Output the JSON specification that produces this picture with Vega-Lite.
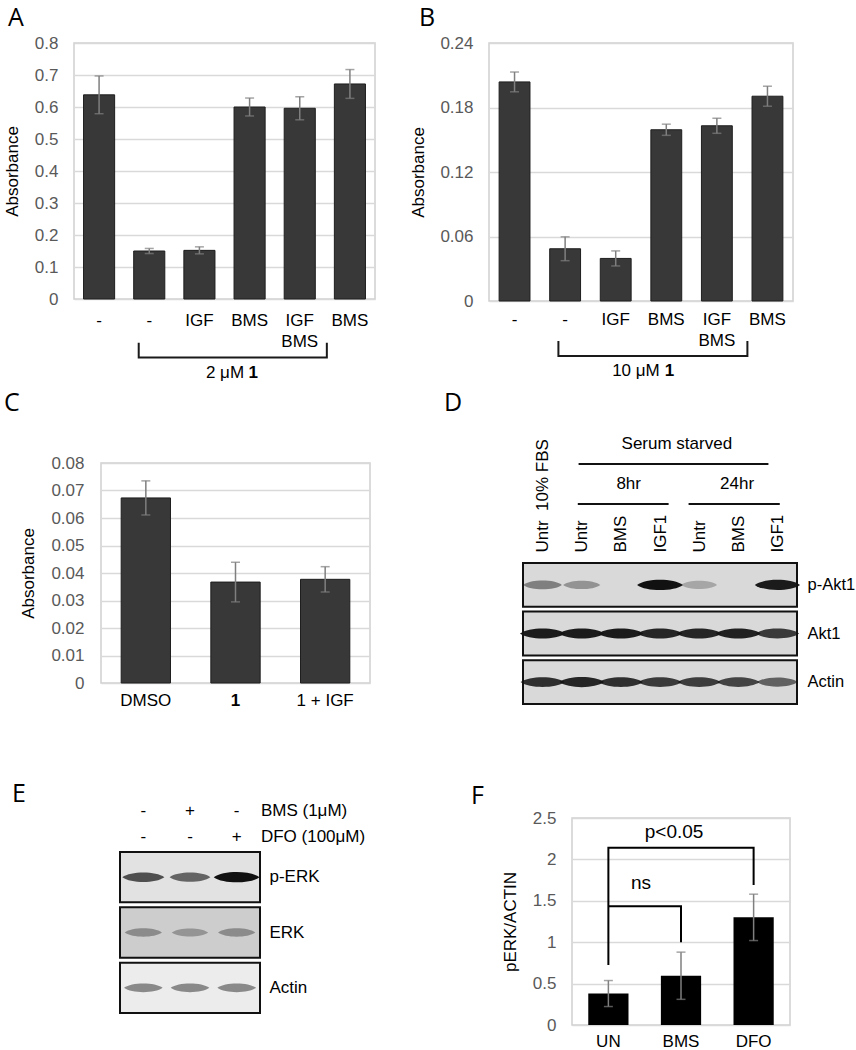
{
  "$schema": "https://vega.github.io/schema/vega-lite/v6.json",
  "background": "white",
  "padding": {"left": 0, "top": 4, "right": 0, "bottom": 0},
  "config": {
    "font": "Liberation Sans",
    "view": {"stroke": null},
    "axis": {"labelFont": "Liberation Sans", "titleFont": "Liberation Sans", "labelFontSize": 17, "titleFontSize": 17, "titleFontWeight": "normal", "ticks": false, "domain": false, "labelColor": "#000000", "titleColor": "#000000", "gridColor": "#d9d9d9", "gridWidth": 1.5, "grid": false, "labelOverlap": false},
    "title": {"font": "Open Sans", "fontSize": 25, "fontWeight": "normal", "anchor": "start", "frame": "group", "color": "#000000"},
    "text": {"font": "Liberation Sans", "fontSize": 17, "color": "#000000"}
  },
  "columns": 2,
  "spacing": 0,
  "concat": [
    {
      "columns": 1, "spacing": 0,
      "concat": [
        {
          "columns": 2, "spacing": 0,
          "concat": [
            {"width": 1.5, "height": 1, "data": {"values": []}, "mark": "point", "encoding": {}},
            {
              "width": 301, "height": 256,
              "view": {"stroke": "#d0d0d0", "strokeWidth": 1.5},
              "title": {"text": "A", "dx": -66, "offset": 3.5},
              "layer": [
                {
                  "data": {"values": [
                    {"condition": "control", "mean": 0.638, "sd": 0.059},
                    {"condition": "1", "mean": 0.150, "sd": 0.008},
                    {"condition": "1 + IGF", "mean": 0.152, "sd": 0.011},
                    {"condition": "1 + BMS", "mean": 0.600, "sd": 0.028},
                    {"condition": "1 + IGF + BMS", "mean": 0.596, "sd": 0.036},
                    {"condition": "BMS", "mean": 0.672, "sd": 0.045}
                  ]},
                  "layer": [
                    {
                      "mark": {"type": "bar", "fill": "#383838", "stroke": "#1e1e1e", "strokeWidth": 1},
                      "encoding": {
                        "x": {"field": "condition", "type": "nominal", "sort": null, "title": null,
                          "scale": {"paddingInner": 0.38, "paddingOuter": 0.19},
                          "axis": {"labelAngle": 0, "labelPadding": 13, "labelLineHeight": 21,
                            "labelExpr": "datum.value == 'control' || datum.value == '1' ? '-' : datum.value == '1 + IGF' ? 'IGF' : datum.value == '1 + BMS' ? 'BMS' : datum.value == '1 + IGF + BMS' ? ['IGF', 'BMS'] : datum.value"}},
                        "y": {"field": "mean", "type": "quantitative", "title": "Absorbance",
                          "scale": {"domain": [0, 0.8]},
                          "axis": {"values": [0, 0.1, 0.2, 0.3, 0.4, 0.5, 0.6, 0.7, 0.8], "tickCount": 20, "format": "~g", "grid": true, "labelColor": "#595959", "labelPadding": 16, "titlePadding": 13}}
                      }
                    },
                    {
                      "mark": {"type": "errorbar", "color": "#7f7f7f", "thickness": 1.5, "ticks": {"size": 9, "thickness": 1.5}},
                      "encoding": {
                        "x": {"field": "condition", "type": "nominal", "sort": null, "title": null},
                        "y": {"field": "mean", "type": "quantitative", "title": "Absorbance", "scale": {"domain": [0, 0.8]}},
                        "yError": {"field": "sd"}
                      }
                    }
                  ]
                },
                {
                  "data": {"values": [
                    {"pos": 1.29, "abs": -0.137, "step": 1},
                    {"pos": 1.29, "abs": -0.183, "step": 2},
                    {"pos": 5.04, "abs": -0.183, "step": 3},
                    {"pos": 5.04, "abs": -0.137, "step": 4}
                  ]},
                  "mark": {"type": "line", "stroke": "#1a1a1a", "strokeWidth": 2},
                  "encoding": {
                    "x": {"field": "pos", "type": "quantitative", "scale": {"domain": [0, 6], "nice": false, "zero": false}, "axis": null},
                    "y": {"field": "abs", "type": "quantitative", "title": "Absorbance", "scale": {"domain": [0, 0.8]}},
                    "order": {"field": "step"}
                  }
                },
                {
                  "data": {"values": [{"pos": 3.39, "abs": -0.2325, "label": "2 \u03bcM"}]},
                  "mark": {"type": "text", "align": "right", "baseline": "middle"},
                  "encoding": {
                    "x": {"field": "pos", "type": "quantitative", "scale": {"domain": [0, 6], "nice": false, "zero": false}, "axis": null},
                    "y": {"field": "abs", "type": "quantitative", "title": "Absorbance", "scale": {"domain": [0, 0.8]}},
                    "text": {"field": "label"}
                  }
                },
                {
                  "data": {"values": [{"pos": 3.48, "abs": -0.2325, "label": "1"}]},
                  "mark": {"type": "text", "align": "left", "baseline": "middle", "fontWeight": "bold"},
                  "encoding": {
                    "x": {"field": "pos", "type": "quantitative", "scale": {"domain": [0, 6], "nice": false, "zero": false}, "axis": null},
                    "y": {"field": "abs", "type": "quantitative", "title": "Absorbance", "scale": {"domain": [0, 0.8]}},
                    "text": {"field": "label"}
                  }
                }
              ],
              "resolve": {"scale": {"x": "independent"}}
            }
          ]
        },
        {"width": 1, "height": 6.3, "data": {"values": []}, "mark": "point", "encoding": {}},
        {
          "columns": 2, "spacing": 0,
          "concat": [
            {"width": 3, "height": 1, "data": {"values": []}, "mark": "point", "encoding": {}},
            {
              "width": 269, "height": 220,
              "view": {"stroke": "#d0d0d0", "strokeWidth": 1.5},
              "title": {"text": "C", "dx": -97, "offset": 38},
              "data": {"values": [
                {"condition": "DMSO", "mean": 0.0673, "sd": 0.0062},
                {"condition": "1", "mean": 0.0367, "sd": 0.0072},
                {"condition": "1 + IGF", "mean": 0.0377, "sd": 0.0046}
              ]},
              "layer": [
                {
                  "mark": {"type": "bar", "fill": "#383838", "stroke": "#1e1e1e", "strokeWidth": 1},
                  "encoding": {
                    "x": {"field": "condition", "type": "nominal", "sort": null, "title": null,
                      "scale": {"paddingInner": 0.45, "paddingOuter": 0.225},
                      "axis": {"labelAngle": 0, "labelPadding": 9,
                        "labelFontWeight": {"condition": {"test": "datum.value == '1'", "value": "bold"}, "value": "normal"}}},
                    "y": {"field": "mean", "type": "quantitative", "title": "Absorbance",
                      "scale": {"domain": [0, 0.08]},
                      "axis": {"values": [0, 0.01, 0.02, 0.03, 0.04, 0.05, 0.06, 0.07, 0.08], "tickCount": 20, "format": "~g", "grid": true, "labelColor": "#595959", "labelPadding": 17, "titlePadding": 13}}
                  }
                },
                {
                  "mark": {"type": "errorbar", "color": "#7f7f7f", "thickness": 1.5, "ticks": {"size": 9, "thickness": 1.5}},
                  "encoding": {
                    "x": {"field": "condition", "type": "nominal", "sort": null, "title": null},
                    "y": {"field": "mean", "type": "quantitative", "title": "Absorbance", "scale": {"domain": [0, 0.08]}},
                    "yError": {"field": "sd"}
                  }
                }
              ]
            }
          ]
        },
        {"width": 1, "height": 72.3, "data": {"values": []}, "mark": "point", "encoding": {}},
        {
          "columns": 2, "spacing": 0,
          "concat": [
            {"width": 11.3, "height": 1, "data": {"values": []}, "mark": "point", "encoding": {}},
            {
              "width": 140, "height": 161,
              "title": {"text": "E", "dx": -108, "offset": -5.5},
              "layer": [
                {
                  "layer": [
                    {
                      "data": {"values": [{"protein": "p-ERK"}, {"protein": "ERK"}, {"protein": "Actin"}]},
                      "mark": {"type": "rect", "stroke": "#111111", "strokeWidth": 2},
                      "encoding": {
                        "y": {"field": "protein", "type": "nominal", "sort": null, "title": null,
                          "scale": {"domain": ["p-ERK", "ERK", "Actin"], "paddingInner": 0.09, "paddingOuter": 0},
                          "axis": {"orient": "right", "labelAlign": "left", "labelPadding": 9}},
                        "x": {"datum": 0.5, "type": "quantitative", "scale": {"domain": [0.5, 3.5], "nice": false, "zero": false}, "axis": null},
                        "x2": {"datum": 3.5},
                        "fill": {"field": "protein", "type": "nominal", "scale": {"domain": ["p-ERK", "ERK", "Actin"], "range": ["#e2e2e2", "#cdcdcd", "#ececec"]}, "legend": null}
                      }
                    },
                    {
                      "data": {"values": [
                        {"protein": "p-ERK", "lane": 1, "signal": 0.7},
                        {"protein": "p-ERK", "lane": 2, "signal": 0.6},
                        {"protein": "p-ERK", "lane": 3, "signal": 1.0},
                        {"protein": "ERK", "lane": 1, "signal": 0.35},
                        {"protein": "ERK", "lane": 2, "signal": 0.3},
                        {"protein": "ERK", "lane": 3, "signal": 0.35},
                        {"protein": "Actin", "lane": 1, "signal": 0.45},
                        {"protein": "Actin", "lane": 2, "signal": 0.45},
                        {"protein": "Actin", "lane": 3, "signal": 0.45}
                      ]},
                      "mark": {"type": "point", "filled": true, "shape": "M-1,0C-0.6,-0.3,0.6,-0.3,1,0C0.6,0.3,-0.6,0.3,-1,0Z", "color": "#111111", "strokeWidth": 0},
                      "encoding": {
                        "x": {"field": "lane", "type": "quantitative", "axis": null},
                        "y": {"field": "protein", "type": "nominal", "sort": null, "title": null},
                        "opacity": {"field": "signal", "type": "quantitative", "scale": {"domain": [0, 1], "range": [0, 1]}, "legend": null},
                        "size": {"field": "signal", "type": "quantitative", "scale": {"domain": [0, 1], "range": [1000, 2100]}, "legend": null}
                      }
                    }
                  ]
                },
                {
                  "layer": [
                    {
                      "data": {"values": [
                        {"treatment": "BMS", "row": 2, "lane": 1, "sign": "-"},
                        {"treatment": "BMS", "row": 2, "lane": 2, "sign": "+"},
                        {"treatment": "BMS", "row": 2, "lane": 3, "sign": "-"},
                        {"treatment": "DFO", "row": 1, "lane": 1, "sign": "-"},
                        {"treatment": "DFO", "row": 1, "lane": 2, "sign": "-"},
                        {"treatment": "DFO", "row": 1, "lane": 3, "sign": "+"}
                      ]},
                      "mark": {"type": "text", "align": "center", "baseline": "middle"},
                      "encoding": {
                        "x": {"field": "lane", "type": "quantitative", "axis": null},
                        "y": {"field": "row", "type": "quantitative", "scale": {"domain": [-5.6, 0.45], "nice": false, "zero": false}, "axis": null},
                        "text": {"field": "sign"}
                      }
                    },
                    {
                      "data": {"values": [
                        {"name": "BMS (1\u03bcM)", "row": 2},
                        {"name": "DFO (100\u03bcM)", "row": 1}
                      ]},
                      "mark": {"type": "text", "align": "left", "baseline": "middle"},
                      "encoding": {
                        "x": {"datum": 3.52, "type": "quantitative", "axis": null},
                        "y": {"field": "row", "type": "quantitative", "scale": {"domain": [-5.6, 0.45], "nice": false, "zero": false}, "axis": null},
                        "text": {"field": "name"}
                      }
                    }
                  ]
                }
              ],
              "resolve": {"scale": {"y": "independent"}}
            }
          ]
        }
      ]
    },
    {
      "columns": 1, "spacing": 0,
      "concat": [
        {
          "columns": 2, "spacing": 0,
          "concat": [
            {"width": 32.3, "height": 1, "data": {"values": []}, "mark": "point", "encoding": {}},
            {
              "width": 304, "height": 258,
              "view": {"stroke": "#d0d0d0", "strokeWidth": 1.5},
              "title": {"text": "B", "dx": -70, "offset": 3.5},
              "layer": [
                {
                  "data": {"values": [
                    {"condition": "control", "mean": 0.2038, "sd": 0.0092},
                    {"condition": "1", "mean": 0.0486, "sd": 0.0111},
                    {"condition": "1 + IGF", "mean": 0.0396, "sd": 0.007},
                    {"condition": "1 + BMS", "mean": 0.1593, "sd": 0.0052},
                    {"condition": "1 + IGF + BMS", "mean": 0.163, "sd": 0.007},
                    {"condition": "BMS", "mean": 0.1905, "sd": 0.0093}
                  ]},
                  "layer": [
                    {
                      "mark": {"type": "bar", "fill": "#383838", "stroke": "#1e1e1e", "strokeWidth": 1},
                      "encoding": {
                        "x": {"field": "condition", "type": "nominal", "sort": null, "title": null,
                          "scale": {"paddingInner": 0.39, "paddingOuter": 0.2},
                          "axis": {"labelAngle": 0, "labelPadding": 10, "labelLineHeight": 21,
                            "labelExpr": "datum.value == 'control' || datum.value == '1' ? '-' : datum.value == '1 + IGF' ? 'IGF' : datum.value == '1 + BMS' ? 'BMS' : datum.value == '1 + IGF + BMS' ? ['IGF', 'BMS'] : datum.value"}},
                        "y": {"field": "mean", "type": "quantitative", "title": "Absorbance",
                          "scale": {"domain": [0, 0.24]},
                          "axis": {"values": [0, 0.06, 0.12, 0.18, 0.24], "tickCount": 20, "format": "~g", "grid": true, "labelColor": "#595959", "labelPadding": 16, "titlePadding": 12}}
                      }
                    },
                    {
                      "mark": {"type": "errorbar", "color": "#7f7f7f", "thickness": 1.5, "ticks": {"size": 9, "thickness": 1.5}},
                      "encoding": {
                        "x": {"field": "condition", "type": "nominal", "sort": null, "title": null},
                        "y": {"field": "mean", "type": "quantitative", "title": "Absorbance", "scale": {"domain": [0, 0.24]}},
                        "yError": {"field": "sd"}
                      }
                    }
                  ]
                },
                {
                  "data": {"values": [
                    {"pos": 1.37, "abs": -0.0372, "step": 1},
                    {"pos": 1.37, "abs": -0.0512, "step": 2},
                    {"pos": 5.10, "abs": -0.0512, "step": 3},
                    {"pos": 5.10, "abs": -0.0372, "step": 4}
                  ]},
                  "mark": {"type": "line", "stroke": "#1a1a1a", "strokeWidth": 2},
                  "encoding": {
                    "x": {"field": "pos", "type": "quantitative", "scale": {"domain": [0, 6], "nice": false, "zero": false}, "axis": null},
                    "y": {"field": "abs", "type": "quantitative", "title": "Absorbance", "scale": {"domain": [0, 0.24]}},
                    "order": {"field": "step"}
                  }
                },
                {
                  "data": {"values": [{"pos": 3.37, "abs": -0.065, "label": "10 \u03bcM"}]},
                  "mark": {"type": "text", "align": "right", "baseline": "middle"},
                  "encoding": {
                    "x": {"field": "pos", "type": "quantitative", "scale": {"domain": [0, 6], "nice": false, "zero": false}, "axis": null},
                    "y": {"field": "abs", "type": "quantitative", "title": "Absorbance", "scale": {"domain": [0, 0.24]}},
                    "text": {"field": "label"}
                  }
                },
                {
                  "data": {"values": [{"pos": 3.47, "abs": -0.065, "label": "1"}]},
                  "mark": {"type": "text", "align": "left", "baseline": "middle", "fontWeight": "bold"},
                  "encoding": {
                    "x": {"field": "pos", "type": "quantitative", "scale": {"domain": [0, 6], "nice": false, "zero": false}, "axis": null},
                    "y": {"field": "abs", "type": "quantitative", "title": "Absorbance", "scale": {"domain": [0, 0.24]}},
                    "text": {"field": "label"}
                  }
                }
              ],
              "resolve": {"scale": {"x": "independent"}}
            }
          ]
        },
        {"width": 1, "height": 10.1, "data": {"values": []}, "mark": "point", "encoding": {}},
        {
          "columns": 2, "spacing": 0,
          "concat": [
            {"width": 67.2, "height": 1, "data": {"values": []}, "mark": "point", "encoding": {}},
            {
              "width": 274, "height": 141,
              "title": {"text": "D", "dx": -79, "offset": 18.7},
              "layer": [
                {
                  "layer": [
                    {
                      "data": {"values": [{"protein": "p-Akt1"}, {"protein": "Akt1"}, {"protein": "Actin"}]},
                      "mark": {"type": "rect", "fill": "#d9d9d9", "stroke": "#111111", "strokeWidth": 2},
                      "encoding": {
                        "y": {"field": "protein", "type": "nominal", "sort": null, "title": null,
                          "scale": {"domain": ["p-Akt1", "Akt1", "Actin"], "paddingInner": 0.1, "paddingOuter": 0},
                          "axis": {"orient": "right", "labelAlign": "left", "labelPadding": 10, "labelFontSize": 16.5}},
                        "x": {"datum": 0.5, "type": "quantitative", "title": null,
                          "scale": {"domain": [0.5, 7.5], "nice": false, "zero": false},
                          "axis": {"orient": "top", "values": [1, 2, 3, 4, 5, 6, 7], "labelAngle": -90, "labelPadding": 11,
                            "labelExpr": "['Untr\u00a0\u00a010% FBS', 'Untr', 'BMS', 'IGF1', 'Untr', 'BMS', 'IGF1'][datum.value - 1]"}},
                        "x2": {"datum": 7.5}
                      }
                    },
                    {
                      "data": {"values": [
                        {"protein": "p-Akt1", "lane": 1, "signal": 0.45},
                        {"protein": "p-Akt1", "lane": 2, "signal": 0.35},
                        {"protein": "p-Akt1", "lane": 3, "signal": 0.0},
                        {"protein": "p-Akt1", "lane": 4, "signal": 1.0},
                        {"protein": "p-Akt1", "lane": 5, "signal": 0.25},
                        {"protein": "p-Akt1", "lane": 6, "signal": 0.0},
                        {"protein": "p-Akt1", "lane": 7, "signal": 0.95},
                        {"protein": "Akt1", "lane": 1, "signal": 0.95},
                        {"protein": "Akt1", "lane": 2, "signal": 0.95},
                        {"protein": "Akt1", "lane": 3, "signal": 0.95},
                        {"protein": "Akt1", "lane": 4, "signal": 0.9},
                        {"protein": "Akt1", "lane": 5, "signal": 0.9},
                        {"protein": "Akt1", "lane": 6, "signal": 0.92},
                        {"protein": "Akt1", "lane": 7, "signal": 0.8},
                        {"protein": "Actin", "lane": 1, "signal": 0.85},
                        {"protein": "Actin", "lane": 2, "signal": 0.9},
                        {"protein": "Actin", "lane": 3, "signal": 0.85},
                        {"protein": "Actin", "lane": 4, "signal": 0.8},
                        {"protein": "Actin", "lane": 5, "signal": 0.78},
                        {"protein": "Actin", "lane": 6, "signal": 0.75},
                        {"protein": "Actin", "lane": 7, "signal": 0.6}
                      ]},
                      "mark": {"type": "point", "filled": true, "shape": "M-1,0C-0.6,-0.3,0.6,-0.3,1,0C0.6,0.3,-0.6,0.3,-1,0Z", "color": "#111111", "strokeWidth": 0},
                      "encoding": {
                        "x": {"field": "lane", "type": "quantitative", "title": null},
                        "y": {"field": "protein", "type": "nominal", "sort": null, "title": null},
                        "opacity": {"field": "signal", "type": "quantitative", "scale": {"domain": [0, 1], "range": [0, 1]}, "legend": null},
                        "size": {"field": "signal", "type": "quantitative", "scale": {"domain": [0, 1], "range": [800, 1300]}, "legend": null}
                      }
                    }
                  ]
                },
                {
                  "data": {"values": [
                    {"label": "Serum starved", "center": 4.43, "start": 1.92, "end": 6.77, "level": 13, "lineLevel": 12},
                    {"label": "8hr", "center": 3.2, "start": 1.9, "end": 4.22, "level": 11, "lineLevel": 10},
                    {"label": "24hr", "center": 5.97, "start": 4.73, "end": 7.06, "level": 11, "lineLevel": 10}
                  ]},
                  "layer": [
                    {
                      "mark": {"type": "rule", "stroke": "#111111", "strokeWidth": 2},
                      "encoding": {
                        "x": {"field": "start", "type": "quantitative", "title": null},
                        "x2": {"field": "end"},
                        "y": {"field": "lineLevel", "type": "quantitative", "scale": {"domain": [0, 7.05], "nice": false, "zero": false}, "axis": null}
                      }
                    },
                    {
                      "mark": {"type": "text", "baseline": "middle", "align": "center"},
                      "encoding": {
                        "x": {"field": "center", "type": "quantitative", "title": null},
                        "y": {"field": "level", "type": "quantitative", "scale": {"domain": [0, 7.05], "nice": false, "zero": false}, "axis": null},
                        "text": {"field": "label"}
                      }
                    }
                  ]
                }
              ],
              "resolve": {"scale": {"y": "independent"}}
            }
          ]
        },
        {"width": 1, "height": 77.7, "data": {"values": []}, "mark": "point", "encoding": {}},
        {
          "columns": 2, "spacing": 0,
          "concat": [
            {"width": 93.5, "height": 1, "data": {"values": []}, "mark": "point", "encoding": {}},
            {
              "width": 218, "height": 207,
              "view": {"stroke": "#d0d0d0", "strokeWidth": 1.5},
              "title": {"text": "F", "dx": -101, "offset": 0},
              "layer": [
                {
                  "layer": [
                    {
                      "data": {"values": [
                        {"group": "UN", "mean": 0.38, "sd": 0.157},
                        {"group": "BMS", "mean": 0.595, "sd": 0.285},
                        {"group": "DFO", "mean": 1.30, "sd": 0.28}
                      ]},
                      "layer": [
                        {
                          "mark": {"type": "bar", "fill": "#000000"},
                          "encoding": {
                            "x": {"field": "group", "type": "nominal", "sort": null, "title": null,
                              "scale": {"paddingInner": 0.446, "paddingOuter": 0.224},
                              "axis": {"labelAngle": 0, "labelPadding": 8.5}},
                            "y": {"field": "mean", "type": "quantitative", "title": "pERK/ACTIN",
                              "scale": {"domain": [0, 2.5]},
                              "axis": {"values": [0, 0.5, 1, 1.5, 2, 2.5], "tickCount": 20, "format": "~g", "grid": true, "labelColor": "#595959", "labelPadding": 16, "titlePadding": 13}}
                          }
                        },
                        {
                          "mark": {"type": "errorbar", "color": "#7f7f7f", "thickness": 1.5, "ticks": {"size": 9, "thickness": 1.5}},
                          "encoding": {
                            "x": {"field": "group", "type": "nominal", "sort": null, "title": null},
                            "y": {"field": "mean", "type": "quantitative", "title": "pERK/ACTIN", "scale": {"domain": [0, 2.5]}},
                            "yError": {"field": "sd"}
                          }
                        }
                      ]
                    },
                    {
                      "data": {"values": [
                        {"comparison": "UN vs DFO", "group": "UN", "val": 0.725, "step": 1},
                        {"comparison": "UN vs DFO", "group": "UN", "val": 2.14, "step": 2},
                        {"comparison": "UN vs DFO", "group": "DFO", "val": 2.14, "step": 3},
                        {"comparison": "UN vs DFO", "group": "DFO", "val": 1.69, "step": 4},
                        {"comparison": "UN vs BMS", "group": "UN", "val": 1.434, "step": 1},
                        {"comparison": "UN vs BMS", "group": "BMS", "val": 1.434, "step": 2},
                        {"comparison": "UN vs BMS", "group": "BMS", "val": 1.0, "step": 3}
                      ]},
                      "mark": {"type": "line", "stroke": "#000000", "strokeWidth": 2},
                      "encoding": {
                        "x": {"field": "group", "type": "nominal", "sort": null, "title": null},
                        "y": {"field": "val", "type": "quantitative", "title": "pERK/ACTIN", "scale": {"domain": [0, 2.5]}},
                        "detail": {"field": "comparison"},
                        "order": {"field": "step"}
                      }
                    }
                  ]
                },
                {
                  "data": {"values": [
                    {"label": "p<0.05", "pos": 1.405, "val": 2.33},
                    {"label": "ns", "pos": 0.95, "val": 1.713}
                  ]},
                  "mark": {"type": "text", "fontSize": 19, "baseline": "middle", "align": "center"},
                  "encoding": {
                    "x": {"field": "pos", "type": "quantitative", "scale": {"domain": [0, 3], "nice": false, "zero": false}, "axis": null},
                    "y": {"field": "val", "type": "quantitative", "title": "pERK/ACTIN", "scale": {"domain": [0, 2.5]}},
                    "text": {"field": "label"}
                  }
                }
              ],
              "resolve": {"scale": {"x": "independent"}}
            }
          ]
        }
      ]
    }
  ]
}
